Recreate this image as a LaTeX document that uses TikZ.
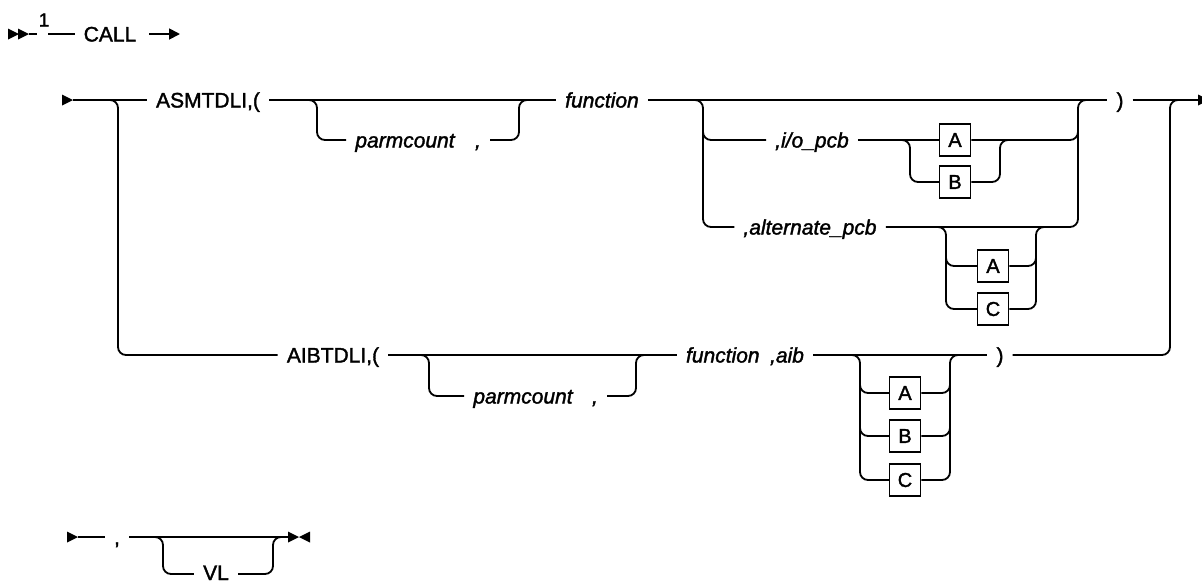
\documentclass[tikz,border=0pt]{standalone}
\usepackage{fontspec}
\setmainfont{Liberation Sans}
\newfontfamily\railfont[FakeBold=1.6]{Liberation Sans}
\usetikzlibrary{arrows.meta}
\tikzset{
  rail/.style={line width=1.8pt, rounded corners=8pt},
  plain/.style={line width=1.8pt},
  kw/.style={font=\railfont\fontsize{21}{24}\selectfont, anchor=base, yshift=-7.5pt, inner xsep=9pt, inner ysep=0pt},
  var/.style={kw, font=\railfont\fontsize{21}{24}\selectfont\itshape},
  optbox/.style={draw, line width=1.5pt, minimum width=31pt, minimum height=32pt, inner sep=0pt, font=\railfont\fontsize{20}{22}\selectfont},
  tri/.pic={\fill (-11,-5.5) -- (0,0) -- (-11,5.5) -- cycle;},
  trl/.pic={\fill (11,-5.5) -- (0,0) -- (11,5.5) -- cycle;},
}
\begin{document}
\begin{tikzpicture}[x=1pt,y=-1pt]
\useasboundingbox (0,0) rectangle (1202,582);
% ---------- row 0 ----------
\coordinate (r0) at (0,34);
\pic at (19,34) {tri};
\pic at (29,34) {tri};
\coordinate (s0) at (29,34);
\coordinate (s0e) at (37,34);
\draw[plain] (s0) -- (s0e);
\node[font=\railfont\fontsize{19}{20}\selectfont, inner sep=0pt] (one) at (44,20) {1};
\node[kw] (call) at (110,34) {CALL};
\coordinate (c0) at (48,34);
\draw[plain] (c0) -- (call.west |- r0);
\coordinate (e0) at (180,34);
\draw[plain, -{Triangle[length=11pt,width=11pt]}] ([xshift=4pt]call.east |- r0) -- (e0);
% ---------- rows ----------
\coordinate (r1) at (0,100);
\coordinate (r2) at (0,140);
\coordinate (r3) at (0,227);
\coordinate (r4) at (0,355);
\coordinate (r5) at (0,396);
\pic at (73,100) {tri};
\coordinate (s1) at (73,100);
\node[kw] (asm) at (208,100) {ASMTDLI,(};
\node[kw] (aib) at (333,355) {AIBTDLI,(};
\draw[plain] (s1) -- (asm.west |- r1);
\coordinate (lv) at (118,100);
\draw[rail] (s1) -- (lv) -- (lv |- r4) -- (aib.west |- r4);
\node[var] (fn) at (602,100) {function};
\draw[plain] (asm.east |- r1) -- (fn.west |- r1);
% parmcount (1)
\node[var] (pc) at (405,140) {parmcount};
\node[var] (cm) at (478,140) {,};
\coordinate (pb0) at (305,100);
\coordinate (pb) at (317,100);
\coordinate (pj) at (519,100);
\coordinate (pj1) at (531,100);
\draw[rail] (pb0) -- (pb) -- (pb |- r2) -- (pc.west |- r2);
\draw[rail] (cm.east |- r2) -- (pj |- r2) -- (pj) -- (pj1);
% right paren and end
\node[kw] (rp) at (1120,100) {)};
\draw[plain] (fn.east |- r1) -- (rp.west |- r1);
\coordinate (end1) at (1198,100);
\draw[plain] (rp.east |- r1) -- (end1);
\pic at (1209,100) {tri};
% outer right vertical
\node[kw] (rp2) at (1000,355) {)};
\coordinate (rv) at (1170,100);
\coordinate (rv1) at (1182,100);
\draw[rail] (rp2.east |- r4) -- (rv |- r4) -- (rv) -- (rv1);
% i/o group
\coordinate (gl0) at (691,100);
\coordinate (gl) at (703,100);
\coordinate (glm) at (703,125);
\coordinate (gr) at (1078,100);
\coordinate (gr1) at (1090,100);
\coordinate (grm) at (1078,125);
\node[var] (io) at (812,140) {,i/o\_pcb};
\node[var] (alt) at (810,227) {,alternate\_pcb};
\draw[rail] (gl0) -- (gl) -- (gl |- r3) -- (alt.west |- r3);
\draw[rail] (glm) -- (gl |- r2) -- (io.west |- r2);
\draw[rail] (alt.east |- r3) -- (gr |- r3) -- (gr) -- (gr1);
\node[optbox] (a1) at (955,140) {A};
\node[optbox] (b1) at (955,182) {B};
\draw[plain] (io.east |- r2) -- (a1.west);
\draw[rail] (a1.east) -- (gr |- r2) -- (grm);
\coordinate (abl0) at (898,140);
\coordinate (abl) at (910,140);
\coordinate (abr) at (1000,140);
\coordinate (abr1) at (1012,140);
\draw[rail] (abl0) -- (abl) -- (abl |- b1.west) -- (b1.west);
\draw[rail] (b1.east) -- (abr |- b1.east) -- (abr) -- (abr1);
% alternate group
\node[optbox] (a2) at (993,266) {A};
\node[optbox] (c2) at (993,309) {C};
\coordinate (acl0) at (934,227);
\coordinate (acl) at (946,227);
\coordinate (aclm) at (946,252);
\coordinate (acr) at (1036,227);
\coordinate (acr1) at (1048,227);
\coordinate (acrm) at (1036,252);
\draw[rail] (acl0) -- (acl) -- (acl |- c2.west) -- (c2.west);
\draw[rail] (aclm) -- (acl |- a2.west) -- (a2.west);
\draw[rail] (c2.east) -- (acr |- c2.east) -- (acr) -- (acr1);
\draw[rail] (a2.east) -- (acr |- a2.east) -- (acrm);
% ---------- AIBTDLI row ----------
\node[var] (fn2) at (745,355) {function\hspace{0.5em},aib};
\draw[plain] (aib.east |- r4) -- (fn2.west |- r4);
\node[var] (pc2) at (523,396) {parmcount};
\node[var] (cm2) at (595,396) {,};
\coordinate (qb0) at (417,355);
\coordinate (qb) at (429,355);
\coordinate (qj) at (636,355);
\coordinate (qj1) at (648,355);
\draw[rail] (qb0) -- (qb) -- (qb |- r5) -- (pc2.west |- r5);
\draw[rail] (cm2.east |- r5) -- (qj |- r5) -- (qj) -- (qj1);
\draw[plain] (fn2.east |- r4) -- (rp2.west |- r4);
\node[optbox] (a3) at (905,393) {A};
\node[optbox] (b3) at (905,436) {B};
\node[optbox] (c3) at (905,480) {C};
\coordinate (xl0) at (848,355);
\coordinate (xl) at (860,355);
\coordinate (xla) at (860,380);
\coordinate (xlb) at (860,423);
\coordinate (xr) at (950,355);
\coordinate (xr1) at (962,355);
\coordinate (xra) at (950,380);
\coordinate (xrb) at (950,423);
\draw[rail] (xl0) -- (xl) -- (xl |- c3.west) -- (c3.west);
\draw[rail] (xla) -- (xl |- a3.west) -- (a3.west);
\draw[rail] (xlb) -- (xl |- b3.west) -- (b3.west);
\draw[rail] (c3.east) -- (xr |- c3.east) -- (xr) -- (xr1);
\draw[rail] (a3.east) -- (xr |- a3.east) -- (xra);
\draw[rail] (b3.east) -- (xr |- b3.east) -- (xrb);
% ---------- last row ----------
\coordinate (r6) at (0,537);
\coordinate (r7) at (0,574);
\pic at (78,537) {tri};
\coordinate (s6) at (78,537);
\node[kw] (cm3) at (117,537) {,};
\draw[plain] (s6) -- (cm3.west |- r6);
\coordinate (e6) at (290,537);
\draw[plain] (cm3.east |- r6) -- (e6);
\pic at (299,537) {tri};
\pic at (299,537) {trl};
\node[kw, yshift=1.5pt] (vl) at (216,574) {VL};
\coordinate (vb0) at (151,537);
\coordinate (vb) at (163,537);
\coordinate (vj) at (273,537);
\coordinate (vj1) at (285,537);
\draw[rail] (vb0) -- (vb) -- (vb |- r7) -- (vl.west |- r7);
\draw[rail] (vl.east |- r7) -- (vj |- r7) -- (vj) -- (vj1);
\end{tikzpicture}
\end{document}
